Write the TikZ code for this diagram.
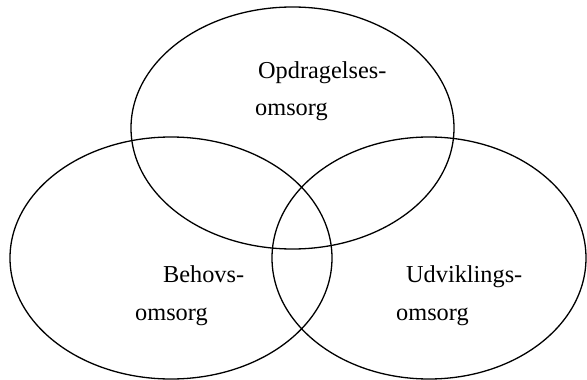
\documentclass[tikz,border=0pt]{standalone}
\usepackage{fontspec}
\setmainfont{Liberation Serif}
\usetikzlibrary{shapes.geometric}
\tikzset{
  circ/.style={draw, line width=1.3pt, ellipse, inner sep=0pt},
  lbl/.style={anchor=base west, inner sep=0pt, font=\fontsize{24.3}{29}\selectfont}
}
\begin{document}
\begin{tikzpicture}[x=1pt,y=-1pt]
\useasboundingbox (0,0) rectangle (587,380);
\node[circ, minimum width=323pt, minimum height=242pt] (top) at (292.5,128) {};
\node[circ, minimum width=322pt, minimum height=242pt] (left) at (171,258) {};
\node[circ, minimum width=314pt, minimum height=242pt] (right) at (429,258) {};
\node[lbl] (t1) at (258,78) {Opdragelses-};
\node[lbl] (t2) at (255,115) {omsorg};
\node[lbl] (l1) at (163,282) {Behovs-};
\node[lbl] (l2) at (135,320) {omsorg};
\node[lbl] (r1) at (406,282) {Udviklings-};
\node[lbl] (r2) at (396,320) {omsorg};
\end{tikzpicture}
\end{document}
